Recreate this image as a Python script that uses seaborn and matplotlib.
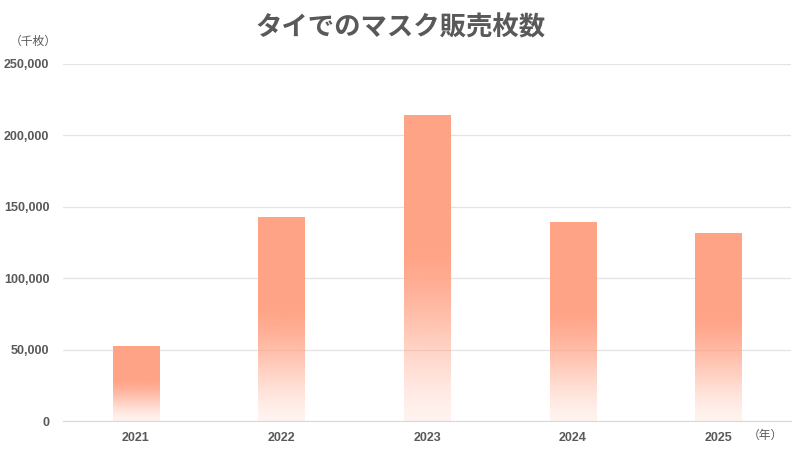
import numpy as np
import pandas as pd
import matplotlib
matplotlib.use("Agg")
import matplotlib.pyplot as plt
import seaborn as sns
from matplotlib.colors import to_rgb

years = ["2021", "2022", "2023", "2024", "2025"]
sales = [52000, 142500, 214000, 139000, 131500]

bar_color = "#FFA386"
text_gray = "#595959"

sns.set_style("white")
plt.rcParams["font.family"] = ["Noto Sans CJK JP", "DejaVu Sans"]

df = pd.DataFrame({"year": years, "sales": sales})

fig = plt.figure(figsize=(8, 4.5), dpi=100)
ax = fig.add_axes([0.079, 0.064, 0.91, 0.794])

sns.barplot(data=df, x="year", y="sales", color=bar_color, width=0.32, ax=ax, zorder=2)

# グラデーション: 上半分は単色、下半分は白へなめらかにフェード
r, g, b = to_rgb(bar_color)
n = 256
t = np.linspace(0, 1, n)  # 0 = bottom, 1 = top
s = np.clip(t / 0.55, 0, 1)
alpha = 0.12 + 0.88 * (0.5 * s + 0.5 * (3 * s**2 - 2 * s**3))
grad = np.zeros((n, 1, 4))
grad[:, 0, 0] = r
grad[:, 0, 1] = g
grad[:, 0, 2] = b
grad[:, 0, 3] = alpha
for p in ax.patches:
    x0, y0 = p.get_x(), p.get_y()
    w, h = p.get_width(), p.get_height()
    ax.imshow(grad, extent=[x0, x0 + w, y0, y0 + h], origin="lower",
              aspect="auto", zorder=3, interpolation="bilinear")
    p.set_visible(False)

ax.set_xlim(-0.5, len(years) - 0.5)
ax.set_ylim(0, 250000)
ax.set_yticks(range(0, 250001, 50000))
ax.set_yticklabels([f"{v:,}" for v in range(0, 250001, 50000)])
ax.grid(axis="y", color="#e3e3e3", linewidth=0.9, zorder=0)
for sp in ["top", "right", "left"]:
    ax.spines[sp].set_visible(False)
ax.spines["bottom"].set_color("#d9d9d9")
ax.set_xlabel("")
ax.set_ylabel("")
ax.tick_params(axis="both", length=0, labelsize=9, labelcolor=text_gray)
ax.tick_params(axis="x", pad=8)
ax.tick_params(axis="y", pad=10)
for lab in ax.get_xticklabels() + ax.get_yticklabels():
    lab.set_fontweight("bold")
    lab.set_family("Liberation Sans")

fig.text(0.5, 0.938, "タイでのマスク販売枚数", ha="center", va="center",
         fontsize=19, fontweight="bold", color=text_gray)
fig.text(0.041, 0.908, "（千枚）", ha="center", va="center", fontsize=8.5, color=text_gray)
fig.text(0.957, 0.032, "（年）", ha="center", va="center", fontsize=8.5, color=text_gray)

fig.savefig("out.png", dpi=100, facecolor="white")
